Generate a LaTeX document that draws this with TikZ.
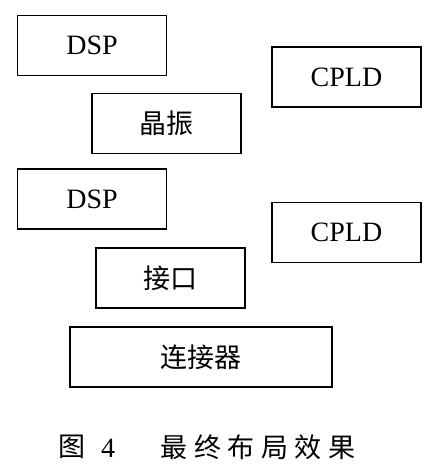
\documentclass[tikz,border=0pt]{standalone}
\usepackage{fontspec}
\setmainfont{Liberation Serif}
\newfontfamily\cjk{Noto Sans CJK SC}
\begin{document}
\begin{tikzpicture}[x=1pt,y=-1pt,
  blk/.style={draw=black,line width=1.5pt,rectangle,inner sep=0pt,
    minimum width=149pt,minimum height=60pt,font=\rmfamily\fontsize{28}{30}\selectfont},
  captxt/.style={inner sep=0pt,font=\cjk\fontsize{27}{29}\selectfont}]
\useasboundingbox (0,0) rectangle (436,473);
\node[blk] (dspa) at (92,45.5) {DSP};
\node[blk] (cplda) at (346.5,77) {CPLD};
\node[blk] (xtal) at (166.5,123.5) {\cjk\fontsize{27}{29}\selectfont 晶振};
\node[blk] (dspb) at (92,199) {DSP};
\node[blk] (cpldb) at (346.5,232.5) {CPLD};
\node[blk] (iface) at (170.5,278) {\cjk\fontsize{27}{29}\selectfont 接口};
\node[blk,minimum width=262pt] (conn) at (201,357) {\cjk\fontsize{27}{29}\selectfont 连接器};
\node[captxt] (fig) at (72,447) {图};
\node[inner sep=0pt,font=\rmfamily\fontsize{28}{30}\selectfont] (num) at (108,448) {4};
\node[captxt] (title) at (258,447) {最\hspace{6.5pt}终\hspace{6.5pt}布\hspace{6.5pt}局\hspace{6.5pt}效\hspace{6.5pt}果};
\end{tikzpicture}
\end{document}
